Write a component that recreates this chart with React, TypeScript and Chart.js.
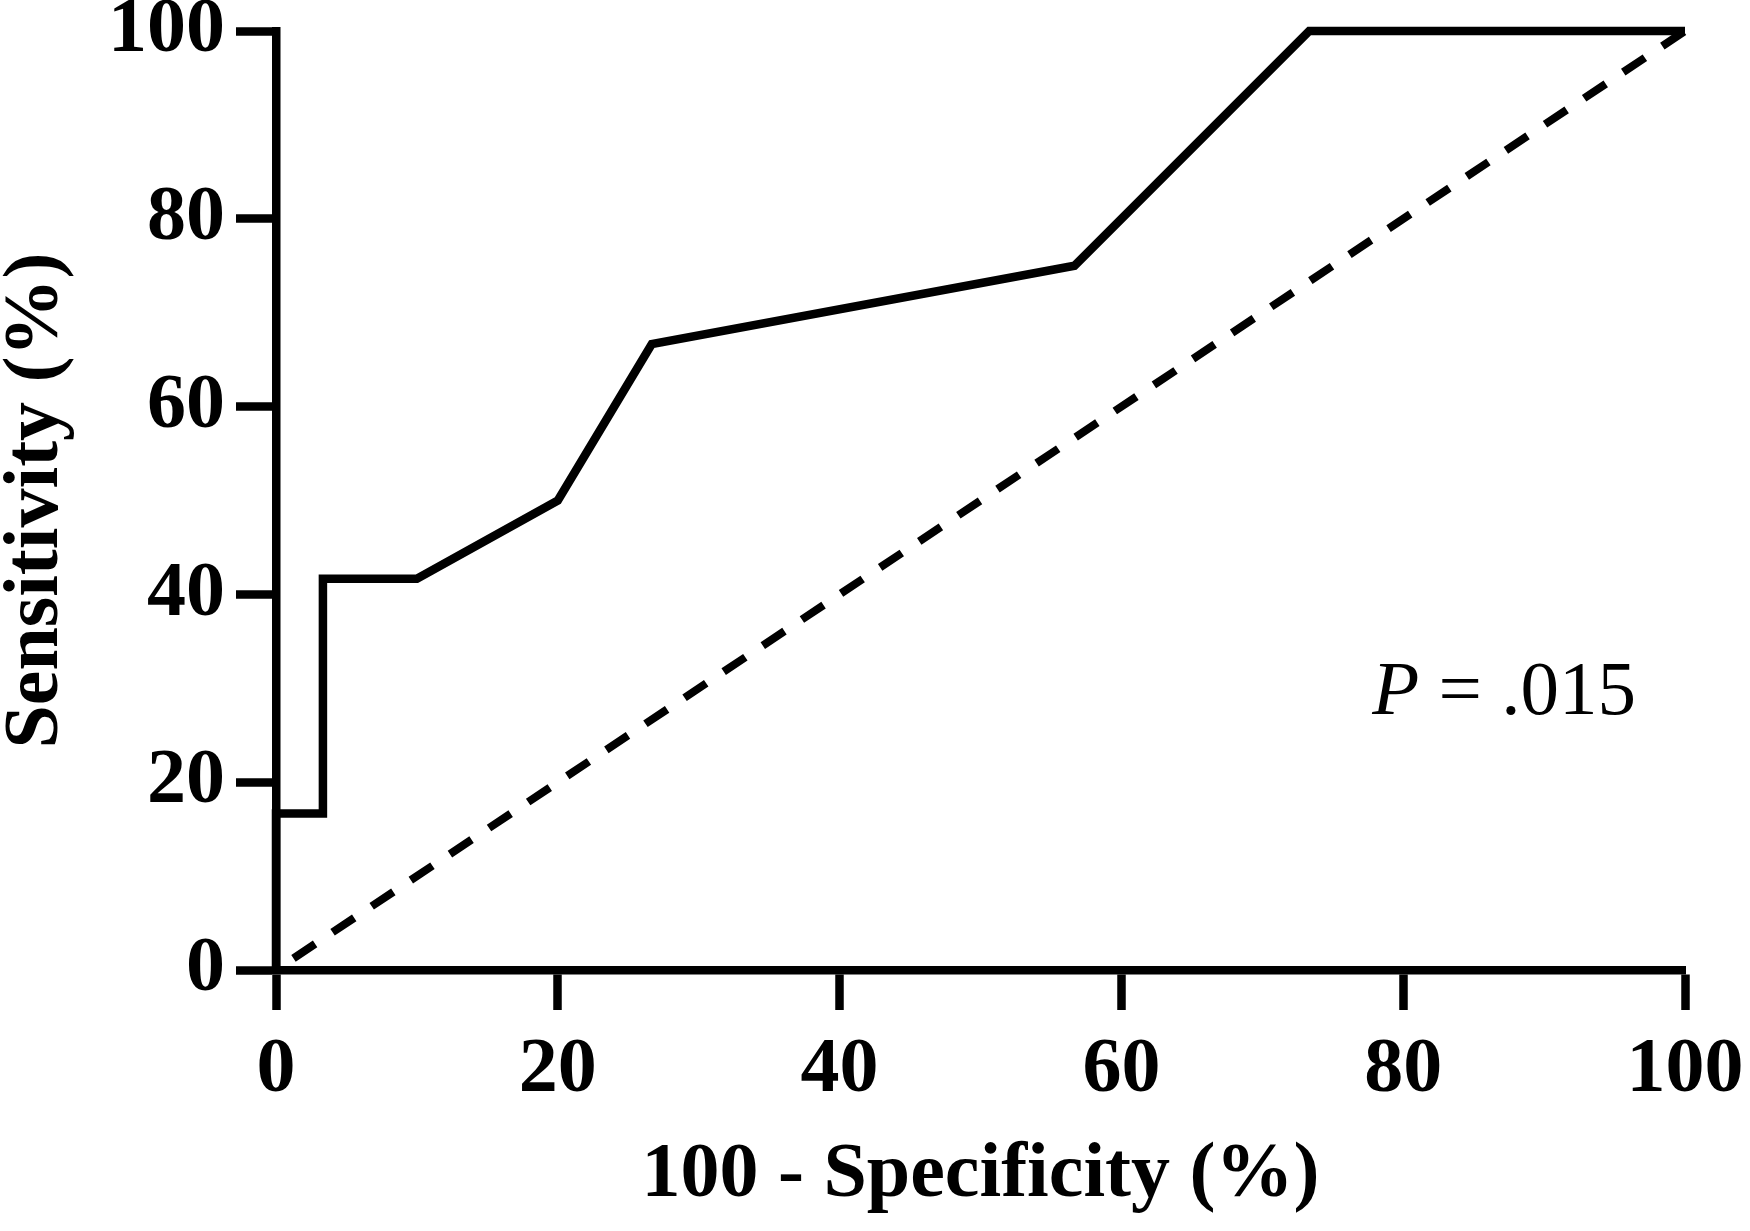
import { useEffect, useRef } from 'react'
import Chart from 'chart.js/auto'

// ROC curve
const rocX = [0, 0, 3.33, 3.33, 10, 20, 26.67, 56.67, 73.33, 100]
const rocY = [0, 16.67, 16.67, 41.67, 41.67, 50, 66.67, 75, 100, 100]

// chance line
const chanceX = [0, 100]
const chanceY = [0, 100]

const xTicks = [0, 20, 40, 60, 80, 100]
const yTicks = [0, 20, 40, 60, 80, 100]

const xTitle = '100 - Specificity (%)'
const yTitle = 'Sensitivity (%)'
const pValue = '.015'

const SERIF = '"Liberation Serif", "Times New Roman", serif'
const LINE = 8.5

const pLabel = {
  id: 'pLabel',
  afterDraw(chart: Chart) {
    const { ctx } = chart
    const x = chart.scales.x
    const y = chart.scales.y
    const left = x.getPixelForValue(77.8)
    const base = y.getPixelForValue(27.3)
    ctx.save()
    ctx.fillStyle = '#000'
    ctx.textAlign = 'left'
    ctx.textBaseline = 'alphabetic'
    ctx.font = `italic 77px ${SERIF}`
    ctx.fillText('P', left, base)
    const w = ctx.measureText('P').width
    ctx.font = `77px ${SERIF}`
    ctx.fillText(' = ' + pValue, left + w, base)
    ctx.restore()
  }
}

export default function App() {
  const chartRef = useRef<HTMLCanvasElement>(null)
  const chartInstance = useRef<Chart | null>(null)

  useEffect(() => {
    if (!chartRef.current) return
    if (chartInstance.current) chartInstance.current.destroy()

    const ctx = chartRef.current.getContext('2d')
    if (!ctx) return

    chartInstance.current = new Chart(ctx, {
      type: 'scatter',
      data: {
        datasets: [
          {
            label: 'ROC',
            data: rocX.map((v, i) => ({ x: v, y: rocY[i] })),
            showLine: true,
            borderColor: '#000',
            borderWidth: LINE,
            borderJoinStyle: 'miter',
            pointRadius: 0,
            tension: 0,
            clip: false
          },
          {
            label: 'Reference',
            data: chanceX.map((v, i) => ({ x: v, y: chanceY[i] })),
            showLine: true,
            borderColor: '#000',
            borderWidth: 8,
            borderDash: [26, 21],
            borderDashOffset: 26,
            pointRadius: 0,
            clip: false
          }
        ]
      },
      options: {
        animation: false,
        responsive: true,
        maintainAspectRatio: false,
        devicePixelRatio: 1,
        layout: { padding: { left: 0, right: 65, top: 31, bottom: 0 } },
        plugins: {
          legend: { display: false },
          tooltip: { enabled: false }
        },
        scales: {
          x: {
            type: 'linear',
            min: 0,
            max: 100,
            afterBuildTicks: (scale: any) => {
              scale.ticks = xTicks.map((v) => ({ value: v }))
            },
            afterFit: (scale: any) => {
              scale.height = 261
              scale.paddingLeft = 0
              scale.paddingRight = 0
            },
            grid: {
              drawOnChartArea: false,
              drawTicks: true,
              tickLength: 40,
              tickWidth: LINE,
              color: '#000'
            },
            border: { display: true, color: '#000', width: LINE },
            ticks: {
              color: '#000',
              padding: 14,
              maxRotation: 0,
              font: { family: SERIF, size: 78, weight: 'bold' }
            },
            title: {
              display: true,
              text: xTitle,
              color: '#000',
              font: { family: SERIF, size: 78, weight: 'bold', lineHeight: 1 },
              padding: { top: 0, bottom: 16.6 }
            }
          },
          y: {
            type: 'linear',
            min: 0,
            max: 100,
            afterBuildTicks: (scale: any) => {
              scale.ticks = yTicks.map((v) => ({ value: v }))
            },
            afterFit: (scale: any) => {
              scale.width = 276
              scale.paddingTop = 0
              scale.paddingBottom = 0
            },
            grid: {
              drawOnChartArea: false,
              drawTicks: true,
              tickLength: 40,
              tickWidth: LINE,
              color: '#000'
            },
            border: { display: true, color: '#000', width: LINE },
            ticks: {
              color: '#000',
              padding: 11,
              font: { family: SERIF, size: 78, weight: 'bold' }
            },
            title: {
              display: true,
              text: yTitle,
              color: '#000',
              font: { family: SERIF, size: 78, weight: 'bold', lineHeight: 0.9 },
              padding: { top: 2, bottom: 0 }
            }
          }
        }
      },
      plugins: [pLabel]
    })

    return () => {
      if (chartInstance.current) {
        chartInstance.current.destroy()
        chartInstance.current = null
      }
    }
  }, [])

  return (
    <div
      style={{
        position: 'fixed',
        left: 0,
        top: 0,
        width: 1750,
        height: 1231,
        background: '#fff'
      }}
    >
      <canvas ref={chartRef} />
    </div>
  )
}
